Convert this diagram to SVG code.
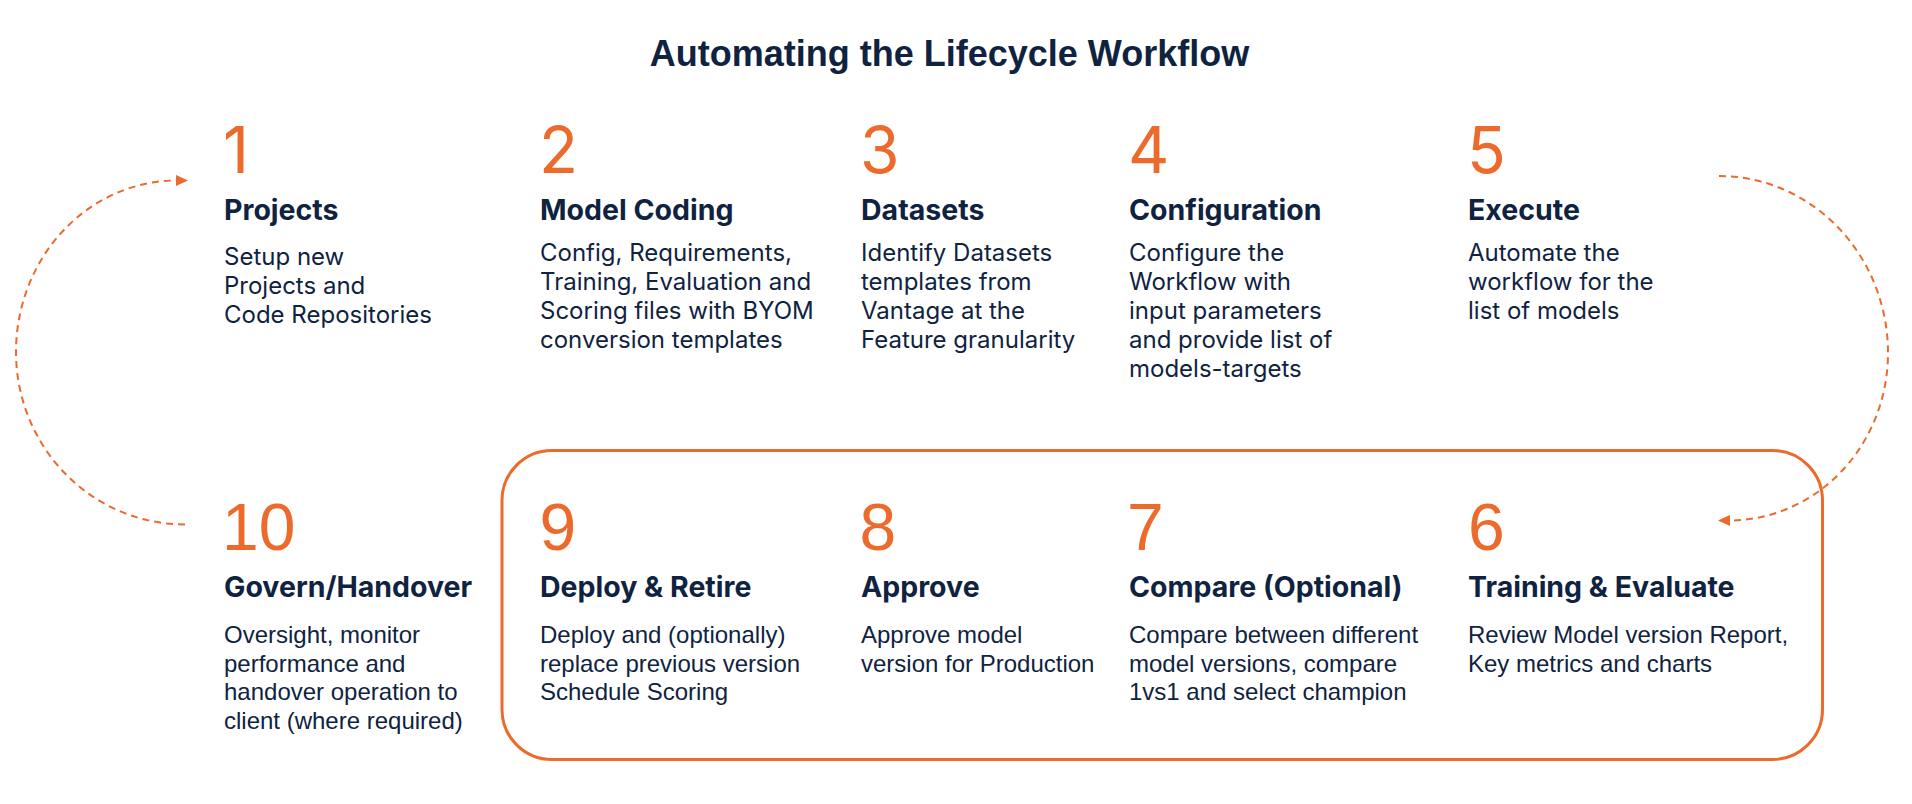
<svg xmlns="http://www.w3.org/2000/svg" width="1912" height="804" viewBox="0 0 1912 804">
  <style>
    .title { font-family: "Liberation Sans", Arial, sans-serif; font-weight: 700; font-size: 36px; fill: #0F2341; }
    .num1 { font-family: Inter, "Liberation Sans", sans-serif; font-weight: 400; font-size: 64px; fill: #EC6A2C; }
    .num2 { font-family: "Liberation Sans", Arial, sans-serif; font-weight: 400; font-size: 66px; fill: #EC6A2C; }
    .head { font-family: Inter, "Liberation Sans", sans-serif; font-weight: 700; font-size: 28.5px; fill: #0F2341; }
    .body1 { font-family: Inter, "Liberation Sans", sans-serif; font-weight: 400; font-size: 24px; fill: #0F2341; }
    .body2 { font-family: "Liberation Sans", Arial, sans-serif; font-weight: 400; font-size: 24px; fill: #0F2341; }
    .loop { fill: none; stroke: #EC6A2C; stroke-width: 2; stroke-dasharray: 7 5; }
    .frame { fill: none; stroke: #EC6A2C; stroke-width: 3; }
  </style>
  <defs>
    <marker id="arrow" markerUnits="userSpaceOnUse" markerWidth="14" markerHeight="12" refX="1" refY="6" orient="auto">
      <path d="M0,0.5 L12,6 L0,11.5 Z" fill="#EC6A2C"/>
    </marker>
  </defs>

  <rect width="1912" height="804" fill="#FFFFFF"/>

  <text class="title" x="949.5" y="65.5" text-anchor="middle">Automating the Lifecycle Workflow</text>

  <!-- frame around the model release steps 6 to 9 -->
  <rect class="frame" x="502" y="450.5" width="1320.5" height="309" rx="50" ry="50"/>

  <!-- connectors: each loop is two quarter ellipses meeting at its outermost point -->
  <g id="connectors">
    <path class="loop" d="M185,524.5 A169,172.5 0 0 1 16,352 A161,171.5 0 0 1 177,180.5" marker-end="url(#arrow)"/>
    <path class="loop" d="M1719,176 A169,177 0 0 1 1888,353 A159,167.5 0 0 1 1729,520.5" marker-end="url(#arrow)"/>
  </g>

  <!-- top row: steps 1 to 5 -->
  <g id="step-1">
    <text class="num1" x="223" y="173">1</text>
    <text class="head" x="224" y="219.5">Projects</text>
    <text class="body1" x="224" y="265">Setup new</text>
    <text class="body1" x="224" y="294">Projects and</text>
    <text class="body1" x="224" y="323">Code Repositories</text>
  </g>
  <g id="step-2">
    <text class="num1" x="539" y="173">2</text>
    <text class="head" x="540" y="219.5">Model Coding</text>
    <text class="body1" x="540" y="261">Config, Requirements,</text>
    <text class="body1" x="540" y="290">Training, Evaluation and</text>
    <text class="body1" x="540" y="319">Scoring files with BYOM</text>
    <text class="body1" x="540" y="348">conversion templates</text>
  </g>
  <g id="step-3">
    <text class="num1" x="860" y="173">3</text>
    <text class="head" x="861" y="219.5">Datasets</text>
    <text class="body1" x="861" y="261">Identify Datasets</text>
    <text class="body1" x="861" y="290">templates from</text>
    <text class="body1" x="861" y="319">Vantage at the</text>
    <text class="body1" x="861" y="348">Feature granularity</text>
  </g>
  <g id="step-4">
    <text class="num1" x="1128" y="173">4</text>
    <text class="head" x="1129" y="219.5">Configuration</text>
    <text class="body1" x="1129" y="261">Configure the</text>
    <text class="body1" x="1129" y="290">Workflow with</text>
    <text class="body1" x="1129" y="319">input parameters</text>
    <text class="body1" x="1129" y="348">and provide list of</text>
    <text class="body1" x="1129" y="377">models-targets</text>
  </g>
  <g id="step-5">
    <text class="num1" x="1467" y="173">5</text>
    <text class="head" x="1468" y="219.5">Execute</text>
    <text class="body1" x="1468" y="261">Automate the</text>
    <text class="body1" x="1468" y="290">workflow for the</text>
    <text class="body1" x="1468" y="319">list of models</text>
  </g>

  <!-- bottom row: steps 10 to 6 -->
  <g id="step-10">
    <text class="num2" x="222" y="550">10</text>
    <text class="head" x="224" y="597">Govern/Handover</text>
    <text class="body2" x="224" y="643">Oversight, monitor</text>
    <text class="body2" x="224" y="671.5">performance and</text>
    <text class="body2" x="224" y="700">handover operation to</text>
    <text class="body2" x="224" y="728.5">client (where required)</text>
  </g>
  <g id="step-9">
    <text class="num2" x="539.5" y="550">9</text>
    <text class="head" x="540" y="597">Deploy &amp; Retire</text>
    <text class="body2" x="540" y="643">Deploy and (optionally)</text>
    <text class="body2" x="540" y="671.5">replace previous version</text>
    <text class="body2" x="540" y="700">Schedule Scoring</text>
  </g>
  <g id="step-8">
    <text class="num2" x="859.5" y="550">8</text>
    <text class="head" x="861" y="597">Approve</text>
    <text class="body2" x="861" y="643">Approve model</text>
    <text class="body2" x="861" y="671.5">version for Production</text>
  </g>
  <g id="step-7">
    <text class="num2" x="1127" y="550">7</text>
    <text class="head" x="1129" y="597">Compare (Optional)</text>
    <text class="body2" x="1129" y="643">Compare between different</text>
    <text class="body2" x="1129" y="671.5">model versions, compare</text>
    <text class="body2" x="1129" y="700">1vs1 and select champion</text>
  </g>
  <g id="step-6">
    <text class="num2" x="1468" y="550">6</text>
    <text class="head" x="1468" y="597">Training &amp; Evaluate</text>
    <text class="body2" x="1468" y="643">Review Model version Report,</text>
    <text class="body2" x="1468" y="671.5">Key metrics and charts</text>
  </g>
</svg>
